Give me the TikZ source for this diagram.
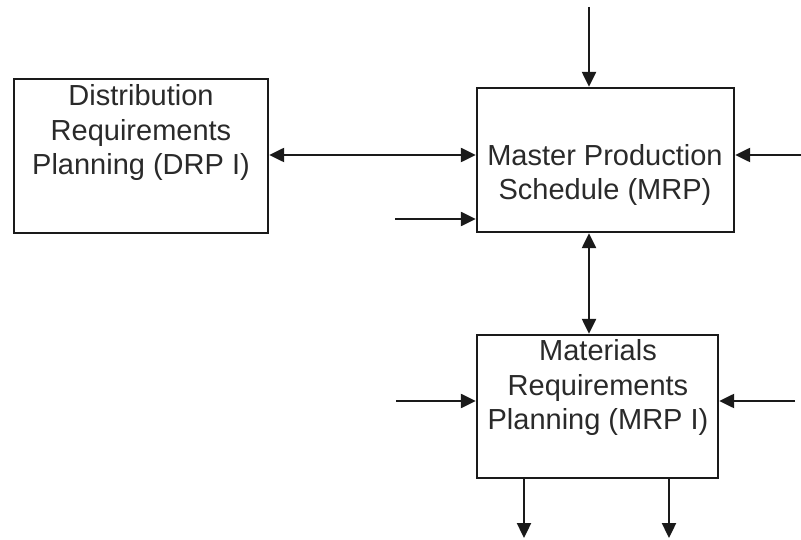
\documentclass[tikz,border=0pt]{standalone}
\usepackage{fontspec}
\setmainfont{Liberation Sans}
\usetikzlibrary{arrows.meta}
\definecolor{ink}{HTML}{1A1A1A}
\definecolor{textink}{HTML}{2A2A2A}
\begin{document}
\begin{tikzpicture}[x=1pt,y=-1pt,
  box/.style={draw=ink, line width=2.4pt, fill=white, inner sep=0pt},
  label/.style={text=textink, align=center, inner sep=0pt,
    font=\fontsize{29}{34.5}\selectfont},
  flow/.style={draw=ink, line width=2.4pt,
    -{Triangle[length=15pt,width=14pt]}},
  flow2/.style={draw=ink, line width=2.4pt,
    {Triangle[length=15pt,width=14pt]}-{Triangle[length=15pt,width=14pt]}}]
  \useasboundingbox (0,0) rectangle (801,540);

  % the three planning blocks
  \node[box, minimum width=254pt, minimum height=154pt] (drp) at (141,156) {};
  \node[box, minimum width=257pt, minimum height=144pt] (mps) at (605.5,160) {};
  \node[box, minimum width=241pt, minimum height=143pt] (mrp) at (597.5,406.5) {};

  \node[label] (drptext) at (141,133) {Distribution\\Requirements\\Planning (DRP I)};
  \node[label] (mpstext) at (605,175) {Master Production\\Schedule (MRP)};
  \node[label] (mrptext) at (598,388) {Materials\\Requirements\\Planning (MRP I)};

  % free ends of the input and output arrows
  \coordinate (mpstop) at (589,7);
  \coordinate (mpsright) at (801,155);
  \coordinate (mpslow) at (395,219);
  \coordinate (mrpleft) at (396,401);
  \coordinate (mrpright) at (795,401);
  \coordinate (outa) at (524,538);
  \coordinate (outb) at (669,538);
  \coordinate (link) at (589,280);

  % connectors
  \draw[flow] (mpstop) -- (mpstop |- mps.north);
  \draw[flow2] (drp.east |- mpsright) -- (mps.west |- mpsright);
  \draw[flow] (mpsright) -- (mps.east |- mpsright);
  \draw[flow] (mpslow) -- (mps.west |- mpslow);
  \draw[flow2] (link |- mps.south) -- (link |- mrp.north);
  \draw[flow] (mrpleft) -- (mrp.west |- mrpleft);
  \draw[flow] (mrpright) -- (mrp.east |- mrpright);
  \draw[flow] (outa |- mrp.south) -- (outa);
  \draw[flow] (outb |- mrp.south) -- (outb);
\end{tikzpicture}
\end{document}
